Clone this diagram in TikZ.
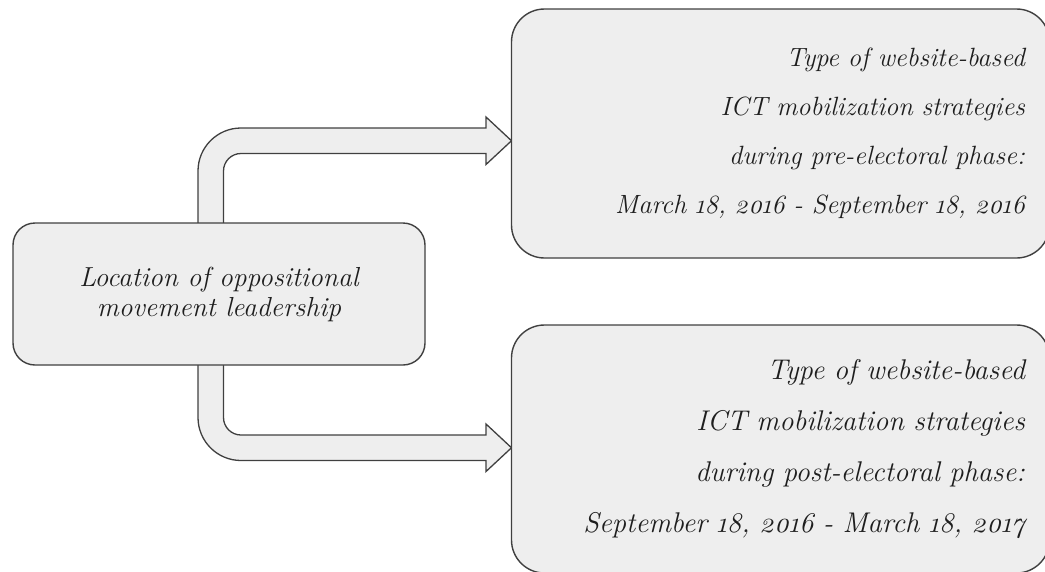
\documentclass[tikz,border=0pt]{standalone}
\usepackage{fontspec}
\setmainfont{Latin Modern Roman}[Numbers=OldStyle]
\definecolor{boxfill}{HTML}{EEEEEE}
\definecolor{boxline}{HTML}{404040}
\definecolor{txt}{HTML}{1E1E1E}
\begin{document}
\begin{tikzpicture}[x=1pt,y=-1pt,
  box/.style={draw=boxline, fill=boxfill, line width=1.4pt, inner sep=0pt, text=txt},
  bigbox/.style={box, rounded corners=33pt, minimum width=538pt, align=right},
  flow/.style={draw=boxline, fill=boxfill, line width=1.3pt, line join=miter}]
\useasboundingbox (0,0) rectangle (1045,571);
% arrows (drawn first, boxes cover their ends)
\draw[flow] (198,223) -- (198,171)
  .. controls (198,147.25) and (217.25,128) .. (241,128)
  -- (486,128) -- (486,117) -- (511.5,140.75) -- (486,164.5) -- (486,153.5)
  -- (241,153.5) .. controls (231.33,153.5) and (223.5,161.33) .. (223.5,171)
  -- (223.5,223);
\draw[flow] (198,365) -- (198,417.5)
  .. controls (198,441.25) and (217.25,460.5) .. (241,460.5)
  -- (486,460.5) -- (486,471.5) -- (511.5,447.75) -- (486,424) -- (486,435)
  -- (241,435) .. controls (231.33,435) and (223.5,427.17) .. (223.5,417.5)
  -- (223.5,365);
% boxes
\node[box, rounded corners=22pt, minimum width=412pt, minimum height=142pt, align=center,
  font=\fontsize{27.5}{30}\selectfont\itshape] (src) at (219,294)
  {Location of oppositional\\movement leadership};
\node[bigbox, minimum height=249pt, text width=489pt,
  font=\fontsize{26.4}{49}\selectfont\itshape] (pre) at (780.5,133.5)
  {Type of website-based\\ICT mobilization strategies\\during pre-electoral phase:\\March 18, 2016 - September 18, 2016};
\node[bigbox, minimum height=248pt, text width=489pt,
  font=\fontsize{28.5}{51}\selectfont\itshape] (post) at (780.5,449)
  {Type of website-based\\ICT mobilization strategies\\during post-electoral phase:\\September 18, 2016 - March 18, 2017};
\end{tikzpicture}
\end{document}
